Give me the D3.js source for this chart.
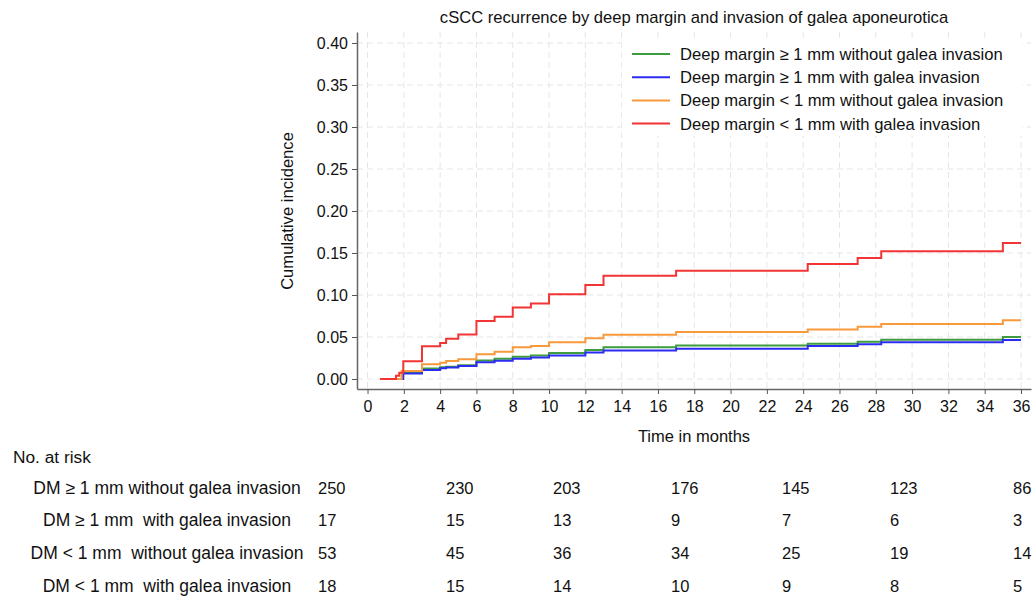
<!DOCTYPE html>
<html>
<head>
<meta charset="utf-8">
<script src="https://cdn.jsdelivr.net/npm/d3@7"></script>
<style>
  body { margin: 0; background: #fff; }
  svg { font-family: "Liberation Sans", Arial, Helvetica, sans-serif; }
  .pre { white-space: pre; }
</style>
</head>
<body>
<div id="chart"></div>
<script>
var width = 1034, height = 597;

// step points [month, cumulative incidence]
var dmWideNoGalea = [[0.7,0],[1.9,0.008],[3,0.0125],[4,0.0139],[4.33,0.0147],[5,0.0165],[6,0.022],[7,0.024],[8,0.0266],[9,0.028],[10,0.031],[12,0.0345],[13,0.0377],[17,0.040],[24.25,0.042],[27,0.0444],[28.3,0.0468],[35,0.050],[36,0.050]]
var dmWideGalea = [[0.7,0],[1.97,0.0065],[3,0.0107],[4,0.0127],[4.33,0.0137],[5,0.0155],[6,0.0198],[7,0.0216],[8,0.024],[9,0.0255],[10,0.028],[12,0.0315],[13,0.034],[17,0.036],[24.25,0.0393],[27,0.0413],[28.3,0.0437],[35,0.0464],[36,0.0464]]
var dmNarrowNoGalea = [[0.7,0],[1.88,0.0095],[3,0.0175],[4,0.0194],[4.33,0.0214],[5,0.0234],[6,0.0295],[7,0.0325],[8,0.0377],[9,0.0393],[10,0.0437],[12,0.0484],[13,0.0528],[17,0.056],[24.25,0.059],[27,0.0623],[28.3,0.0655],[35,0.070],[36,0.070]]
var dmNarrowGalea = [[0.7,0],[1.57,0.004],[1.75,0.0075],[1.97,0.021],[3,0.039],[4,0.043],[4.33,0.048],[5,0.053],[6,0.069],[7,0.074],[8,0.085],[9,0.09],[10,0.101],[12,0.112],[13,0.123],[17,0.129],[24.25,0.137],[27,0.144],[28.3,0.152],[35,0.162],[36,0.162]]

var legendLabels = ["Deep margin \u2265 1 mm without galea invasion", "Deep margin \u2265 1 mm with galea invasion",
  "Deep margin < 1 mm without galea invasion", "Deep margin < 1 mm with galea invasion"]
var colors = ["#3d9c3d", "#2b2bf2", "#f8993c", "#f23434"]
var series = [dmWideNoGalea, dmWideGalea, dmNarrowNoGalea, dmNarrowGalea]

var xTicks = d3.range(0, 37, 2)
var yTicks = d3.range(0, 0.401, 0.05)

var riskLabels = ["DM \u2265 1 mm without galea invasion", "DM \u2265 1 mm  with galea invasion",
  "DM < 1 mm  without galea invasion", "DM < 1 mm  with galea invasion"]
var riskCounts = [
  [250, 230, 203, 176, 145, 123, 86],
  [17, 15, 13, 9, 7, 6, 3],
  [53, 45, 36, 34, 25, 19, 14],
  [18, 15, 14, 10, 9, 8, 5]
]
var riskColX = [318, 446, 553, 671, 782, 890, 1013]
var riskRowY = [494, 526, 559, 592]

var svg = d3.select("#chart").append("svg")
  .attr("width", width)
  .attr("height", height)

var x = d3.scaleLinear().domain([-0.58, 36.55]).range([357, 1031])
var y = d3.scaleLinear().domain([-0.0119, 0.4131]).range([389, 32])

// grid
svg.append("g").selectAll("line")
  .data(xTicks).enter().append("line")
  .attr("x1", d => x(d)).attr("x2", d => x(d))
  .attr("y1", 32).attr("y2", 389)
  .attr("stroke", "#e6e6e6").attr("stroke-dasharray", "6,4")
svg.append("g").selectAll("line")
  .data(yTicks).enter().append("line")
  .attr("x1", 357).attr("x2", 1031)
  .attr("y1", d => y(d)).attr("y2", d => y(d))
  .attr("stroke", "#e6e6e6").attr("stroke-dasharray", "6,4")

// legend background hides grid
svg.append("rect")
  .attr("x", 622).attr("y", 40).attr("width", 400).attr("height", 96)
  .attr("fill", "#fff")

svg.append("g")
  .attr("transform", "translate(0,389)")
  .call(d3.axisBottom(x).tickValues(xTicks).tickSize(5).tickPadding(7).tickSizeOuter(0))
svg.append("g")
  .attr("transform", "translate(357,0)")
  .call(d3.axisLeft(y).tickValues(yTicks).tickFormat(d3.format(".2f")).tickSize(5).tickPadding(4).tickSizeOuter(0))

svg.selectAll(".domain").attr("stroke", "#666").attr("stroke-width", 1.5)
svg.selectAll(".tick line").attr("stroke", "#555")
svg.selectAll(".tick text").attr("font-size", 16).attr("fill", "#111")
  .attr("font-family", "Liberation Sans, Arial, sans-serif")

var line = d3.line()
  .curve(d3.curveStepAfter)
  .x(d => x(d[0]))
  .y(d => y(d[1]))

series.forEach(function(s, i) {
  svg.append("path")
    .datum(s)
    .attr("fill", "none")
    .attr("stroke", colors[i])
    .attr("stroke-width", 2)
    .attr("d", line)
})

// legend
legendLabels.forEach(function(lbl, i) {
  var ly = 54 + i * 23.2
  svg.append("line")
    .attr("x1", 632).attr("x2", 670)
    .attr("y1", ly).attr("y2", ly)
    .attr("stroke", colors[i]).attr("stroke-width", 2)
  svg.append("text")
    .attr("x", 680).attr("y", ly + 6)
    .attr("font-size", 16.6).attr("fill", "#111")
    .text(lbl)
})

// titles
svg.append("text")
  .attr("x", 694).attr("y", 23)
  .attr("text-anchor", "middle").attr("font-size", 16.6).attr("fill", "#111")
  .text("cSCC recurrence by deep margin and invasion of galea aponeurotica")
svg.append("text")
  .attr("x", 694).attr("y", 442)
  .attr("text-anchor", "middle").attr("font-size", 16.5).attr("fill", "#111")
  .text("Time in months")
svg.append("text")
  .attr("transform", "translate(293,211) rotate(-90)")
  .attr("text-anchor", "middle").attr("font-size", 16.6).attr("fill", "#111")
  .text("Cumulative incidence")

// number at risk table
svg.append("text")
  .attr("x", 13).attr("y", 463)
  .attr("font-size", 17.3).attr("fill", "#111")
  .text("No. at risk")

riskLabels.forEach(function(lbl, i) {
  svg.append("text")
    .attr("class", "pre")
    .attr("x", 167).attr("y", riskRowY[i])
    .attr("text-anchor", "middle").attr("font-size", 17.5).attr("fill", "#111")
    .text(lbl)
  riskCounts[i].forEach(function(n, j) {
    svg.append("text")
      .attr("x", riskColX[j]).attr("y", riskRowY[i])
      .attr("font-size", 16.5).attr("fill", "#111")
      .text(n)
  })
})
</script>
</body>
</html>
